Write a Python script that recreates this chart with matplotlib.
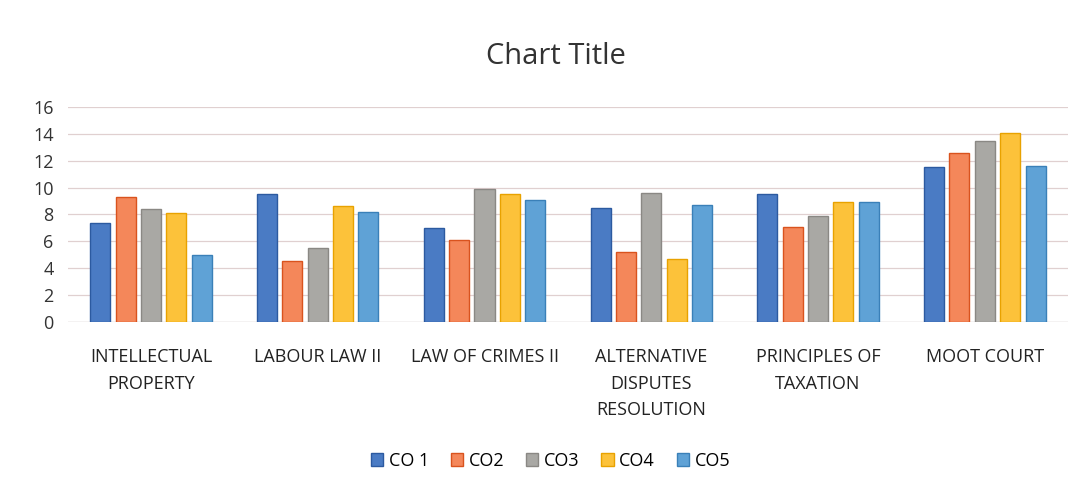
import matplotlib
matplotlib.use("Agg")
import matplotlib.pyplot as plt
import numpy as np

categories = ["INTELLECTUAL\nPROPERTY", "LABOUR LAW II", "LAW OF CRIMES II",
              "ALTERNATIVE\nDISPUTES\nRESOLUTION", "PRINCIPLES OF\nTAXATION", "MOOT COURT"]
series_names = ["CO 1", "CO2", "CO3", "CO4", "CO5"]
co1 = [7.4, 9.5, 7.0, 8.5, 9.5, 11.5]
co2 = [9.3, 4.5, 6.1, 5.2, 7.1, 12.6]
co3 = [8.4, 5.5, 9.9, 9.6, 7.9, 13.5]
co4 = [8.1, 8.6, 9.5, 4.7, 8.9, 14.1]
co5 = [5.0, 8.2, 9.1, 8.7, 8.9, 11.6]
yticks = [0, 2, 4, 6, 8, 10, 12, 14, 16]

series = [co1, co2, co3, co4, co5]
colors = ["#4a7bc4", "#f4875a", "#a9a8a4", "#fcc23a", "#5fa2d6"]
edges = ["#2c5aa0", "#d9531e", "#8a8884", "#e8a200", "#3a80b8"]

plt.rcParams['font.family'] = ['Open Sans', 'DejaVu Sans']
fig = plt.figure(figsize=(10.9, 4.93), dpi=100)
ax = fig.add_axes([0.062, 0.347, 0.918, 0.436])

x = np.arange(len(categories))
w = 0.12
step = 0.152
for i, (vals, c, ec, name) in enumerate(zip(series, colors, edges, series_names)):
    ax.bar(x + (i - 2) * step, vals, width=w, color=c, edgecolor=ec, linewidth=1.0, label=name, zorder=3)

ax.set_ylim(0, 16)
ax.set_xlim(-0.5, len(categories) - 0.5)
ax.set_yticks(yticks)
ax.set_yticklabels([str(t) for t in yticks], fontsize=13, color="#333333")
ax.set_xticks(x)
ax.set_xticklabels(categories, fontsize=13, color="#222222", linespacing=1.6, va="top")
ax.tick_params(axis="both", length=0)
ax.tick_params(axis="x", pad=19)
ax.tick_params(axis="y", pad=10)
ax.yaxis.grid(True, color="#e0d0d0", linewidth=0.9, zorder=0)
for s in ["top", "right", "left", "bottom"]:
    ax.spines[s].set_visible(False)
ax.axhline(0, color="#d8d8d8", linewidth=1.0, zorder=2)

fig.text(0.51, 0.885, "Chart Title", ha="center", va="center", fontsize=21, color="#333333")

handles, labels = ax.get_legend_handles_labels()
leg = fig.legend(handles, labels, loc="center", bbox_to_anchor=(0.505, 0.065), ncol=5,
                 frameon=False, fontsize=13, handlelength=0.7, handleheight=0.7,
                 handletextpad=0.3, columnspacing=1.2)

fig.savefig("out.png", dpi=100)
